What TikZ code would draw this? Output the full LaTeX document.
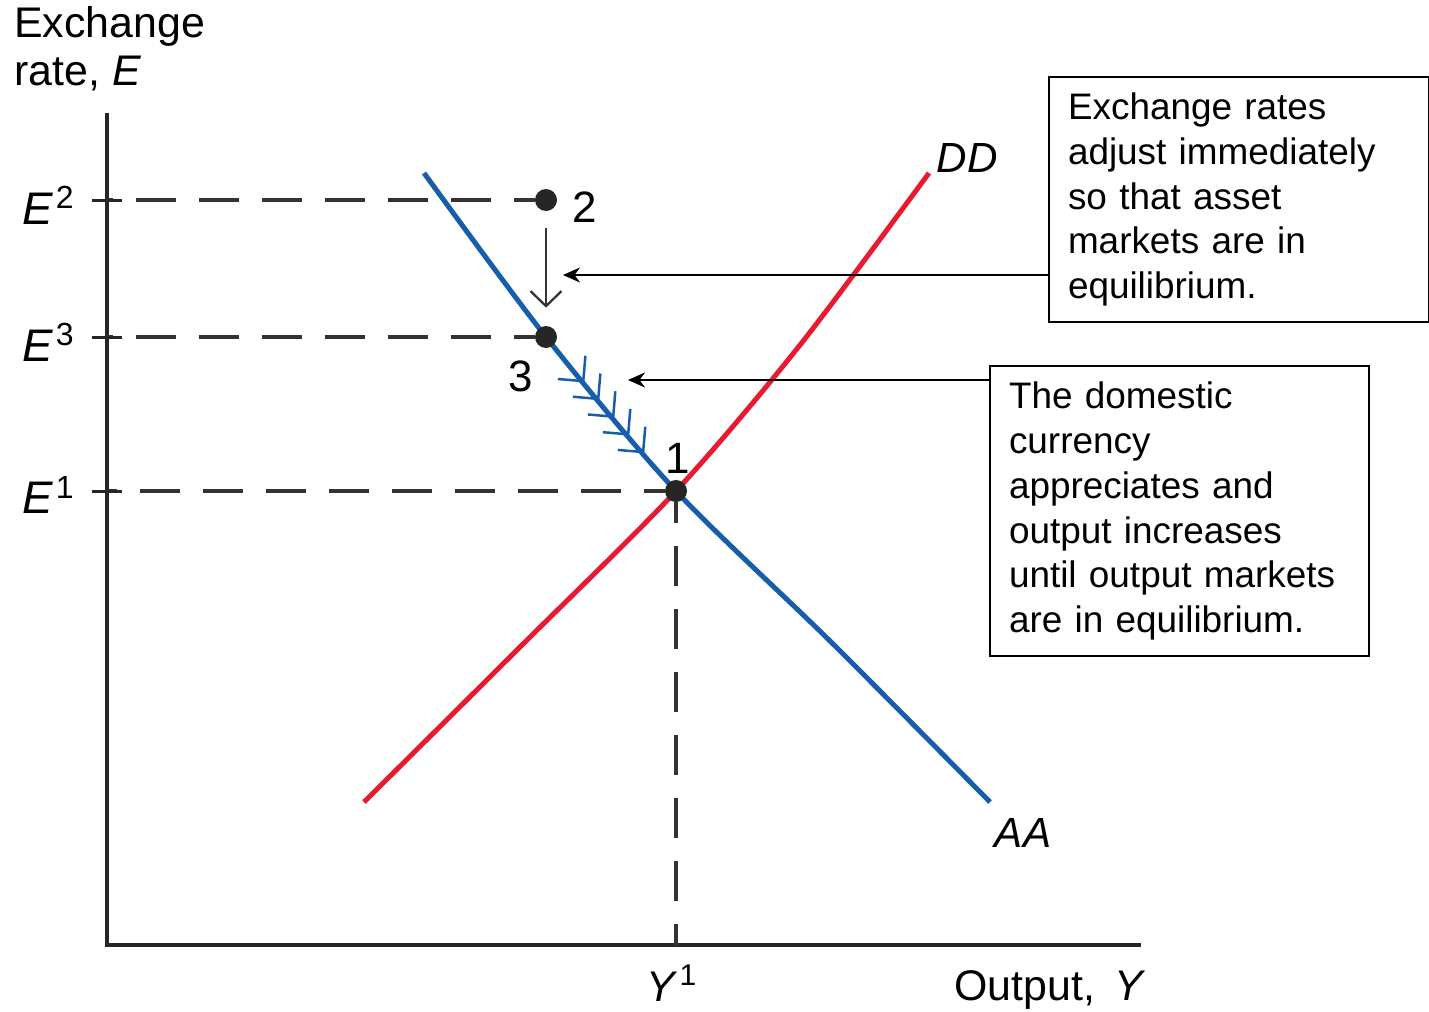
\documentclass[tikz,border=0pt]{standalone}
\usepackage{fontspec}
\setmainfont{Liberation Sans}
\usetikzlibrary{arrows.meta, decorations.markings}

\definecolor{aablue}{RGB}{22,94,172}
\definecolor{ddred}{RGB}{232,26,50}

\tikzstyle{axis} = [
    line width=0.08cm,
    black!85
]
\tikzstyle{guide} = [
    line width=0.065cm,
    black!80,
    dash pattern=on 0.8cm off 0.46cm,
    dash phase=0.38cm
]
\tikzstyle{curveAA} = [
    line width=0.1cm,
    aablue
]
\tikzstyle{curveDD} = [
    line width=0.1cm,
    ddred
]
\tikzstyle{dot} = [
    circle,
    fill=black!85,
    inner sep=0pt,
    minimum size=0.44cm
]
\tikzstyle{notebox} = [
    rectangle,
    draw=black,
    line width=0.04cm,
    anchor=north west,
    align=left,
    inner xsep=0.38cm,
    font=\fontsize{21}{25.6}\selectfont
]
\tikzstyle{arrow} = [line width=0.04cm, -{Stealth[length=0.34cm, width=0.3cm]}]
\tikzstyle{drop} = [line width=0.045cm, black!80, -{Straight Barb[length=0.3cm, width=0.62cm]}]
\tikzstyle{chevron} = [line width=0.05cm, aablue, line join=miter]
\tikzstyle{lbl} = [font=\fontsize{24.4}{27.5}\selectfont, inner sep=0pt]
\tikzstyle{elbl} = [font=\fontsize{26}{30}\selectfont, inner sep=0pt, anchor=east]
\tikzstyle{curvelbl} = [font=\fontsize{24}{28}\selectfont\itshape, inner sep=0pt]
\tikzstyle{ptlbl} = [font=\fontsize{25}{28}\selectfont, inner sep=0pt]

\newcommand{\supE}[1]{\textit{E}\kern1.5pt\textsuperscript{#1}}

\begin{document}
\begin{tikzpicture}[x=0.02cm, y=-0.02cm]

\useasboundingbox (0,0) rectangle (1429,1011);

% axes
\coordinate (origin) at (107,945);
\coordinate (ytop) at (107,113);
\coordinate (xend) at (1141,945);
\draw [axis] (ytop) -- (origin) -- (xend);

\node (ylabel) [lbl, anchor=north west, align=left] at (14,6)
{Exchange\\rate, \textit{E}};

\node (xlabel) [lbl] at (1050,990) {Output,\, \textit{Y}};

% curves
\draw [curveDD] plot [smooth] coordinates {(364,802) (520,647) (676,491) (800,345) (929,173)};
\draw [curveAA] plot [smooth] coordinates {(424,173) (546,337) (676,491) (830,641) (990,802)};

\node (dd) [curvelbl] at (967,158) {DD};
\node (aa) [curvelbl] at (1023,833) {AA};

% equilibrium points
\node (p2) [dot] at (546,200) {};
\node (p3) [dot] at (546,337) {};
\node (p1) [dot] at (676,491) {};

\node (n2) [ptlbl] at (585,207) {2};
\node (n3) [ptlbl] at (521,376) {3};
\node (n1) [ptlbl] at (678,458) {1};

% guide lines and ticks
\draw [guide] (p2) -- (origin |- p2);
\draw [guide] (p3) -- (origin |- p3);
\draw [guide] (p1) -- (origin |- p1);
\draw [guide] (p1) -- (p1 |- origin);

\foreach \p in {p1, p2, p3}
    \draw [line width=0.06cm, black!85] ([xshift=-0.3cm]origin |- \p) -- ([xshift=0.3cm]origin |- \p);

\node (e2) [elbl] at (75,205) {\supE{2}};
\node (e3) [elbl] at (75,342) {\supE{3}};
\node (e1) [elbl] at (75,495) {\supE{1}};

\node (y1) [lbl, anchor=base] at (672,1001) {\textit{Y}\kern1pt\textsuperscript{1}};

% slow adjustment from 3 to 1
\path [decorate, decoration={markings,
    mark=between positions 0.26 and 0.8 step 0.13 with {\draw [chevron] (-0.36cm,0.36cm) -- (0,0) -- (-0.36cm,-0.36cm);}}]
    (p3) -- (p1);

% jump from 2 to 3
\draw [drop, shorten <=0.34cm, shorten >=0.36cm] (p2) -- (p3);

% notes
\node (assetBox) [notebox, text width=6.84cm, minimum height=4.9cm] at (1048,76)
{Exchange rates\\adjust immediately\\so that asset\\markets are in\\equilibrium.};

\node (outputBox) [notebox, text width=6.82cm, minimum height=5.8cm] at (989,365)
{The domestic\\currency\\appreciates and\\output increases\\until output markets\\are in equilibrium.};

\coordinate (tip1) at (563,275);
\coordinate (tip2) at (628,380);
\draw [arrow] (tip1 -| assetBox.west) -- (tip1);
\draw [arrow] (tip2 -| outputBox.west) -- (tip2);

\end{tikzpicture}
\end{document}
